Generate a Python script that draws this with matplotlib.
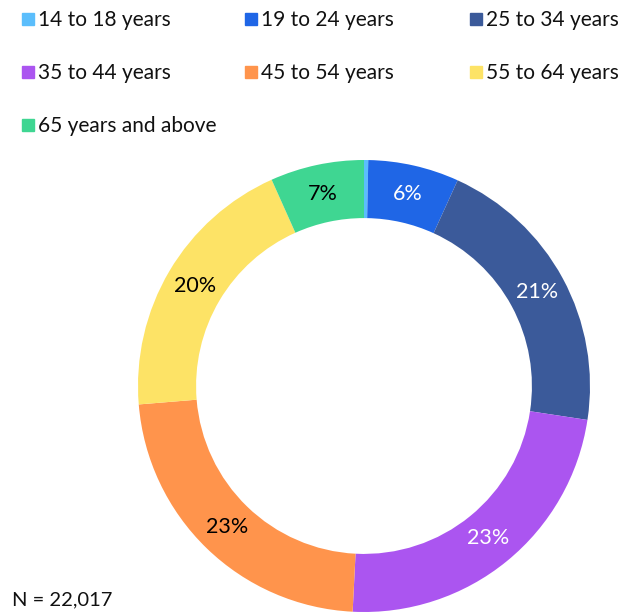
import matplotlib.pyplot as plt
from matplotlib.patches import Rectangle

plt.rcParams['font.family'] = ['Lato', 'DejaVu Sans']

# age group shares (%)
groups = ['14 to 18 years', '19 to 24 years', '25 to 34 years',
          '35 to 44 years', '45 to 54 years', '55 to 64 years',
          '65 years and above']
shares = [0.3, 6.5, 20.6, 23.4, 22.9, 19.6, 6.7]
colors = ['#5BBEFC', '#1F66E6', '#3B5A9A', '#AB55F0', '#FF944C', '#FDE366', '#3FD692']
text_colors = ['white', 'white', 'white', 'white', 'black', 'black', 'black']
n_total = '22,017'

W, H = 639, 613
fig = plt.figure(figsize=(W / 100, H / 100), dpi=100)

# donut
ax = fig.add_axes([138 / W, 1 / H, 452 / W, 452 / H])
wedges, texts = ax.pie(shares, colors=colors, startangle=90, counterclock=False,
                       radius=1.0, wedgeprops=dict(width=0.257, edgecolor='none'),
                       labels=[f'{round(s)}%' if s >= 1 else '' for s in shares],
                       labeldistance=0.87, textprops=dict(fontsize=15.5))
for t, c in zip(texts, text_colors):
    t.set_color(c)
    t.set_ha('center')
    t.set_va('center')
ax.set_xlim(-1, 1)
ax.set_ylim(-1, 1)
ax.set_aspect('equal')
ax.axis('off')

# legend, three per row
col_x = [22, 245, 470]
row_y = [19, 72, 125]
for i, (g, c) in enumerate(zip(groups, colors)):
    x = col_x[i % 3]
    y = row_y[i // 3]
    fig.patches.append(Rectangle((x / W, 1 - (y + 6) / H), 12 / W, 12 / H,
                                 transform=fig.transFigure, color=c))
    fig.text((x + 16) / W, 1 - (y + 1) / H, g, fontsize=15, va='center', ha='left',
             color='#111111')

fig.text(12 / W, 1 - 600 / H, f'N = {n_total}', fontsize=14.5, va='center', ha='left',
         color='#111111')

fig.savefig('out.png', dpi=100)
